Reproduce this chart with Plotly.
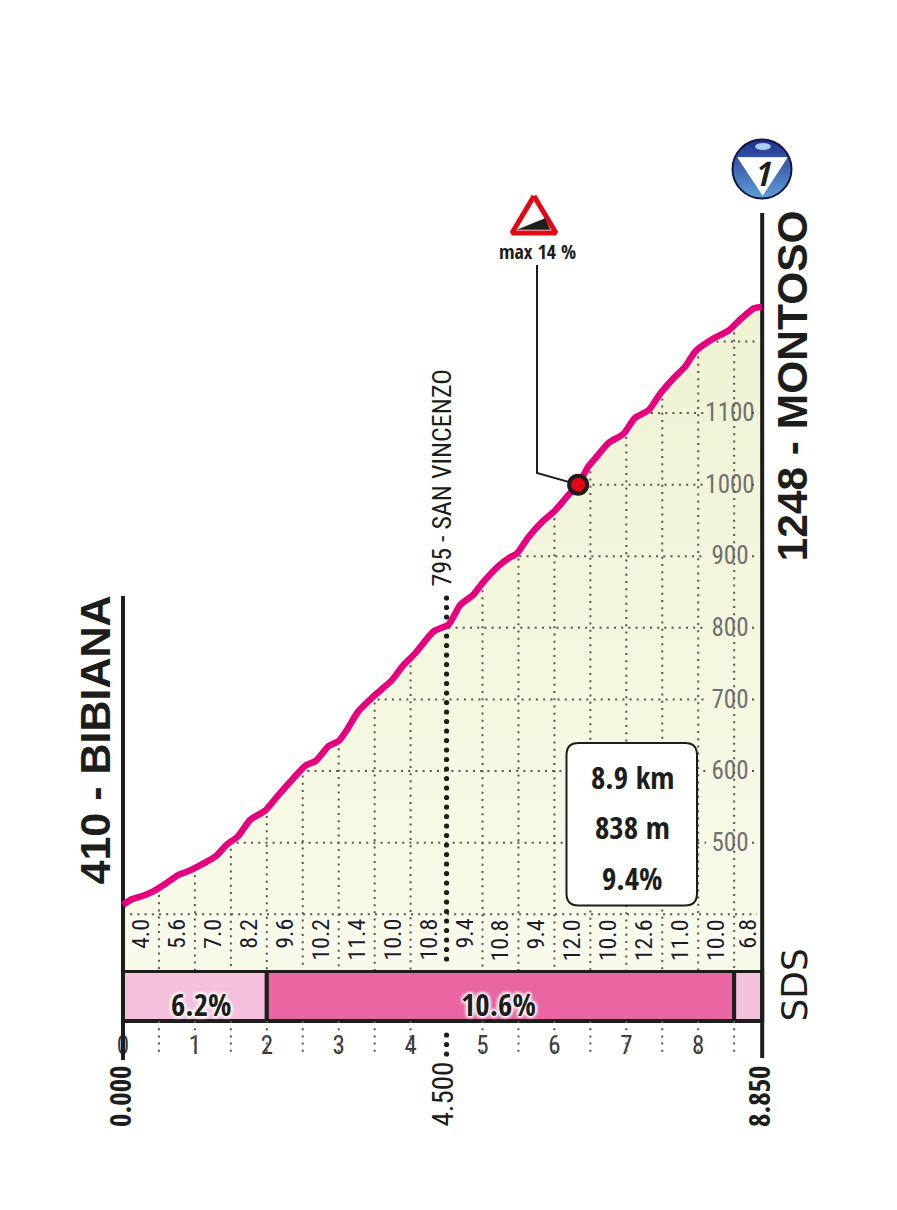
import numpy as np
import plotly.graph_objects as go

# ---------- data ----------
profile_km = [0.0,0.12,0.28,0.42,0.58,0.77,0.95,1.12,1.29,1.44,1.60,1.77,1.98,2.14,2.37,2.53,2.69,2.86,3.0,3.11,3.27,3.48,3.74,3.90,4.06,4.32,4.53,4.69,4.87,5.01,5.24,5.36,5.48,5.64,5.85,6.01,6.19,6.33,6.47,6.57,6.75,6.96,7.12,7.31,7.47,7.65,7.82,7.96,8.21,8.42,8.60,8.77,8.89]
profile_el = [413,421,426,432,442,455,462,471,481,497,509,532,545,564,590,607,615,635,642,657,683,704,727,748,764,795,805,832,846,864,888,897,904,927,950,964,985,1000,1025,1037,1058,1071,1093,1104,1127,1148,1165,1186,1204,1215,1232,1246,1248]
km_ticks = [0,1,2,3,4,5,6,7,8]
km_minor = [0.5,1,1.5,2,2.5,3,3.5,4,5,5.5,6,6.5,7,7.5,8,8.5]
el_grid = [400,500,600,700,800,900,1000,1100,1200]
el_labels = [500,600,700,800,900,1000,1100]
kilo_grad_km = [0.25,0.75,1.25,1.75,2.25,2.75,3.25,3.75,4.25,4.75,5.25,5.75,6.25,6.75,7.25,7.75,8.25,8.69]
kilo_grad = ["4.0","5.6","7.0","8.2","9.6","10.2","11.4","10.0","10.8","9.4","10.8","9.4","12.0","10.0","12.6","11.0","10.0","6.8"]
seg_start = [0,2,8.5]
seg_end = [2,8.5,8.89]
seg_label = ["6.2%","10.6%",""]
seg_label_km = [1.09,5.22,None]
seg_color = ["#f4c1dc","#e966a3","#f4c1dc"]
dist_px = [119,442,758]
dist_text = ["0.000","4.500","8.850"]
steep_km, steep_el = 6.33, 1000
start_name, end_name = "410 - BIBIANA", "1248 - MONTOSO"
mid_name = "795 - SAN VINCENZO"
summary = ["8.9 km","838 m","9.4%"]

# ---------- page <-> axis calibration ----------
W, H = 897, 1210
X0, PX_KM = 123.0, 71.9
Y400, PX_M = 914.3, 0.7161
def kx(px): return (px - X0) / PX_KM
def ey(py): return 400 + (Y400 - py) / PX_M
END = 8.89
INK = "#1d1d1b"
REG = "Roboto Condensed"
BOLD = "Open Sans Condensed"
SANS = "Liberation Sans"
HALO = ", ".join(["0 0 2px #fff"] * 4 + ["0 0 4px #fff"] * 4)

fig = go.Figure()
def line(xs, ys, color=INK, width=2, dash=None):
    fig.add_trace(go.Scatter(x=xs, y=ys, mode="lines", hoverinfo="skip", showlegend=False,
                             line=dict(color=color, width=width, dash=dash)))

# area fill
base = ey(970)
fig.add_trace(go.Scatter(x=[0, END], y=[base, base], mode="lines", line=dict(width=0),
                         hoverinfo="skip", showlegend=False))
fig.add_trace(go.Scatter(x=profile_km, y=profile_el, mode="lines", fill="tonexty",
                         line=dict(width=0, shape="spline", smoothing=0.6),
                         fillgradient=dict(type="vertical", colorscale=[[0,"#f9fbea"],[1,"#eff2d3"]]),
                         hoverinfo="skip", showlegend=False))

# dotted grid
DOT = "2px,5.2px"
vx, vy = [], []
for k in km_minor:
    top = float(np.interp(k, profile_km, profile_el))
    vx += [k, k, None, k, k, None]
    vy += [top, base, None, ey(1021), ey(1056), None]
hx, hy = [], []
for e in el_grid:
    left = float(np.interp(e, profile_el, profile_km))
    if e in el_labels:
        hx += [left, kx(706), None, kx(752), kx(757), None]
        hy += [e, e, None, e, e, None]
    else:
        hx += [left, kx(757), None]
        hy += [e, e, None]

# labels drawn under the dots
fig.add_trace(go.Scatter(x=[kx(730)] * len(el_labels), y=[v - 2.5 for v in el_labels], text=[str(v) for v in el_labels],
                         mode="text", textfont=dict(family=REG, size=25, color="#6f6f6f"),
                         hoverinfo="skip", showlegend=False))
fig.add_trace(go.Scatter(x=km_ticks, y=[ey(1048)] * len(km_ticks), text=[str(v) for v in km_ticks],
                         mode="text", textfont=dict(family=REG, size=25, color="#3a3a3a"),
                         hoverinfo="skip", showlegend=False))
line(vx, vy, "#555", 2, DOT)
line(hx, hy, "#555", 2, DOT)

# climb-point thick dotted line (interrupted by the gradient strip)
dots_y = [ey(p) for p in np.arange(598, 1058, 9.5) if not 966 < p < 1026]
fig.add_trace(go.Scatter(x=[4.5] * len(dots_y), y=dots_y, mode="markers", hoverinfo="skip", showlegend=False,
                         marker=dict(size=5.2, color=INK)))

# gradient strip
for a, b, c in zip(seg_start, seg_end, seg_color):
    fig.add_trace(go.Bar(x=[b - a], base=[a], y=[ey(996)], width=[ey(971) - ey(1021)], orientation="h",
                         marker=dict(color=c, line=dict(color=INK, width=4)),
                         hoverinfo="skip", showlegend=False))

# axes verticals
line([0, 0], [ey(596), ey(1060)], INK, 4)
line([END, END], [ey(213), ey(1058)], INK, 4)

# elevation line
fig.add_trace(go.Scatter(x=profile_km, y=profile_el, mode="lines",
                         line=dict(color="#e6007e", width=6.5, shape="spline", smoothing=0.6),
                         hoverinfo="skip", showlegend=False))

# max-gradient leader and dot
line([kx(537), kx(537), steep_km], [ey(265), ey(473), steep_el], INK, 2)
fig.add_trace(go.Scatter(x=[steep_km], y=[steep_el], mode="markers", hoverinfo="skip", showlegend=False,
                         marker=dict(size=18, color="#e30613", line=dict(color=INK, width=4))))

# warning sign
fig.add_trace(go.Scatter(x=[kx(v) for v in (534, 512, 556, 534)], y=[ey(v) for v in (196, 233, 233, 196)],
                         mode="lines", fill="toself", fillcolor="#fff", line=dict(color="#e30613", width=5),
                         hoverinfo="skip", showlegend=False))
fig.add_trace(go.Scatter(x=[kx(v) for v in (518, 545, 550, 518)], y=[ey(v) for v in (229.5, 218.5, 229.5, 229.5)],
                         mode="lines", fill="toself", fillcolor=INK, line=dict(color=INK, width=0.5),
                         hoverinfo="skip", showlegend=False))

# category badge
fig.add_trace(go.Scatter(x=[kx(762)], y=[ey(169)], mode="markers", hoverinfo="skip", showlegend=False,
                         marker=dict(size=59, color="#1f2f8f", line=dict(color="#10183f", width=2),
                                     gradient=dict(type="vertical", color="#5f9fd6"))))
fig.add_trace(go.Scatter(x=[kx(v) for v in (738, 787, 762.7, 738)], y=[ey(v) for v in (157.7, 157.7, 195, 157.7)],
                         mode="lines", fill="toself", fillcolor="#fff", line=dict(color="#fff", width=1),
                         hoverinfo="skip", showlegend=False))

shapes = [
    dict(type="circle", xref="x", yref="y", x0=kx(755), x1=kx(771), y0=ey(143), y1=ey(150),
         fillcolor="#a9cdea", line=dict(width=0), layer="above"),
]
# summary box with rounded corners
l, r, t, b, q = kx(566.5), kx(697), ey(743), ey(905.5), 12
lq, rq = kx(566.5 + q), kx(697 - q)
tq, bq = ey(743 + q), ey(905.5 - q)
shapes.append(dict(type="path", xref="x", yref="y", layer="above", fillcolor="#fff",
                   line=dict(color=INK, width=2),
                   path=f"M {lq} {t} L {rq} {t} Q {r} {t} {r} {tq} L {r} {bq} Q {r} {b} {rq} {b} "
                        f"L {lq} {b} Q {l} {b} {l} {bq} L {l} {tq} Q {l} {t} {lq} {t} Z"))

ann = []
def text(x, y, s, size, family=REG, color=INK, angle=0, xa="center", ya="middle", shadow=None, bold=False, italic=False):
    f = dict(family=family, size=size, color=color)
    if shadow: f["shadow"] = shadow
    if bold: s = f"<b>{s}</b>"
    if italic: s = f"<i>{s}</i>"
    ann.append(dict(x=x, y=y, xref="x", yref="y", text=s, showarrow=False, font=f, textangle=angle,
                    xanchor=xa, yanchor=ya, borderpad=0, borderwidth=0))

for k, s in zip(kilo_grad_km, kilo_grad):
    text(k, ey(919), s, 24, angle=-90, ya="top", shadow=HALO)
for k, s in zip(seg_label_km, seg_label):
    if s:
        text(k, ey(1004), s, 31, family=BOLD, bold=True, shadow=HALO)
for px, s in zip(dist_px, dist_text):
    if s == "4.500":
        text(kx(px), ey(1127), s, 29, angle=-90, ya="bottom")
    else:
        text(kx(px), ey(1127), s, 29, family=BOLD, angle=-90, ya="bottom", bold=True)
text(kx(94), ey(885), start_name, 43, family=SANS, angle=-90, ya="bottom", bold=True)
text(kx(792), ey(562), end_name, 42.5, family=SANS, angle=-90, ya="bottom", bold=True)
text(kx(441), ey(587), mid_name, 26, angle=-90, ya="bottom")
text(kx(537), ey(251), "max 14 %", 20, family=BOLD, bold=True)
text(kx(762), ey(173), "1", 34, family=BOLD, bold=True, italic=True)
text(kx(794), ey(1022), "SDS", 36, family="DejaVu Sans", angle=-90, ya="bottom")
for s, py in zip(summary, (777, 827, 878)):
    text(kx(632), ey(py), s, 31, family=BOLD, bold=True)

fig.update_layout(
    width=W, height=H, margin=dict(l=0, r=0, t=0, b=0), paper_bgcolor="#fff", plot_bgcolor="#fff",
    showlegend=False, barmode="overlay", shapes=shapes, annotations=ann,
    xaxis=dict(range=[kx(0), kx(W)], visible=False, fixedrange=True),
    yaxis=dict(range=[ey(H), ey(0)], visible=False, fixedrange=True),
)
fig.write_html("out.html", config=dict(displayModeBar=False),
               post_script="document.body.style.margin='0';document.body.style.overflow='hidden';")
